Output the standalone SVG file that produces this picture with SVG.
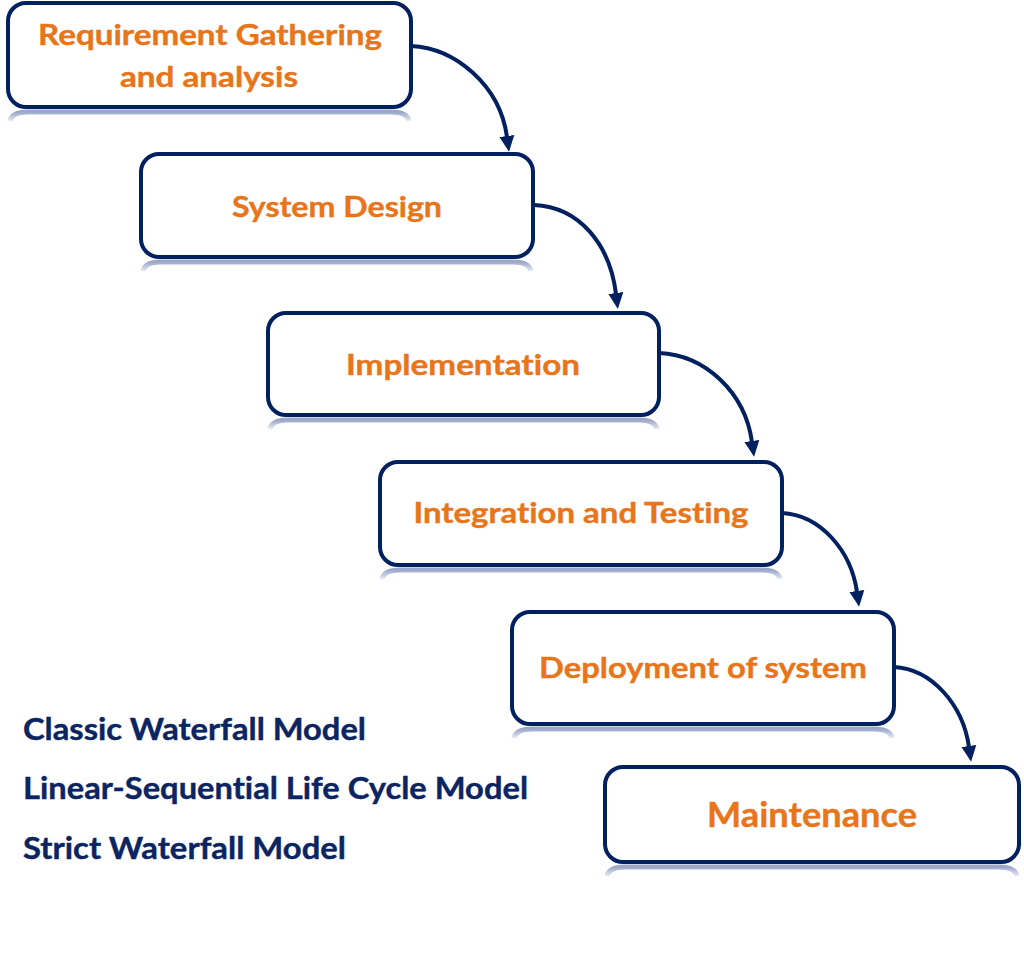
<svg xmlns="http://www.w3.org/2000/svg" width="1024" height="963" viewBox="0 0 1024 963">
  <style>
    .box { fill: #ffffff; stroke: #002060; stroke-width: 4; }
    .shadow { fill: none; stroke: url(#shg); stroke-width: 5; }
    .lbl { font-family: Lato, "Open Sans", "Liberation Sans", sans-serif; font-weight: bold; fill: #E8751A; text-anchor: middle; font-size: 29px; font-variant-ligatures: none; stroke: #E8751A; stroke-width: 0.4; }
    .big { font-size: 35px; }
    .side { font-family: Lato, "Open Sans", "Liberation Sans", sans-serif; font-weight: bold; fill: #0B2462; font-size: 30px; font-variant-ligatures: none; stroke: #0B2462; stroke-width: 0.4; }
    .conn { fill: none; stroke: #002060; stroke-width: 4; marker-end: url(#ah); }
  </style>
  <defs>
    <linearGradient id="shg" x1="0" y1="0" x2="0" y2="1">
      <stop offset="0" stop-color="#9AA7C8"/>
      <stop offset="1" stop-color="#E6EAF3"/>
    </linearGradient>
    <marker id="ah" markerWidth="17" markerHeight="17" refX="1" refY="8.5" orient="auto" markerUnits="userSpaceOnUse">
      <path d="M0,1 L16,8.5 L0,16 Z" fill="#002060"/>
    </marker>
  </defs>
  <rect width="1024" height="963" fill="#ffffff"/>

  <g id="connectors">
    <path class="conn" d="M411,46 C455,48 500,85 507,137"/>
    <path class="conn" d="M534,205 C580,207 610,245 616,294"/>
    <path class="conn" d="M659,353 C705,355 745,392 752,442"/>
    <path class="conn" d="M782,513 C820,515 851,550 857,592"/>
    <path class="conn" d="M894,667 C932,669 963,705 969,747"/>
  </g>

  <g id="n1">
    <path class="shadow" d="M10,121 Q12,112 28,112 H391 Q407,112 409,121"/>
    <rect class="box" x="8" y="3" width="403" height="104" rx="18"/>
    <text class="lbl" x="210" y="45" textLength="344" lengthAdjust="spacingAndGlyphs">Requirement Gathering</text>
    <text class="lbl" x="209" y="87" textLength="178" lengthAdjust="spacingAndGlyphs">and analysis</text>
  </g>

  <g id="n2">
    <path class="shadow" d="M143,271 Q145,262 161,262 H513 Q529,262 531,271"/>
    <rect class="box" x="141" y="154" width="392" height="103" rx="18"/>
    <text class="lbl" x="337" y="217" textLength="210" lengthAdjust="spacingAndGlyphs">System Design</text>
  </g>

  <g id="n3">
    <path class="shadow" d="M270,429 Q272,420 288,420 H639 Q655,420 657,429"/>
    <rect class="box" x="268" y="313" width="391" height="102" rx="18"/>
    <text class="lbl" x="463" y="375" textLength="234" lengthAdjust="spacingAndGlyphs">Implementation</text>
  </g>

  <g id="n4">
    <path class="shadow" d="M382,579 Q384,570 400,570 H762 Q778,570 780,579"/>
    <rect class="box" x="380" y="462" width="402" height="103" rx="18"/>
    <text class="lbl" x="581" y="523" textLength="335" lengthAdjust="spacingAndGlyphs">Integration and Testing</text>
  </g>

  <g id="n5">
    <path class="shadow" d="M514,738 Q516,729 532,729 H874 Q890,729 892,738"/>
    <rect class="box" x="512" y="612" width="382" height="112" rx="18"/>
    <text class="lbl" x="703" y="678" textLength="328" lengthAdjust="spacingAndGlyphs">Deployment of system</text>
  </g>

  <g id="n6">
    <path class="shadow" d="M607,876 Q609,867 625,867 H999 Q1015,867 1017,876"/>
    <rect class="box" x="605" y="767" width="414" height="95" rx="18"/>
    <text class="lbl big" x="812" y="827" textLength="210" lengthAdjust="spacingAndGlyphs">Maintenance</text>
  </g>

  <g id="aliases">
    <text class="side" x="23" y="740" textLength="343" lengthAdjust="spacingAndGlyphs">Classic Waterfall Model</text>
    <text class="side" x="23" y="799" textLength="505" lengthAdjust="spacingAndGlyphs">Linear-Sequential Life Cycle Model</text>
    <text class="side" x="23" y="859" textLength="323" lengthAdjust="spacingAndGlyphs">Strict Waterfall Model</text>
  </g>
</svg>
